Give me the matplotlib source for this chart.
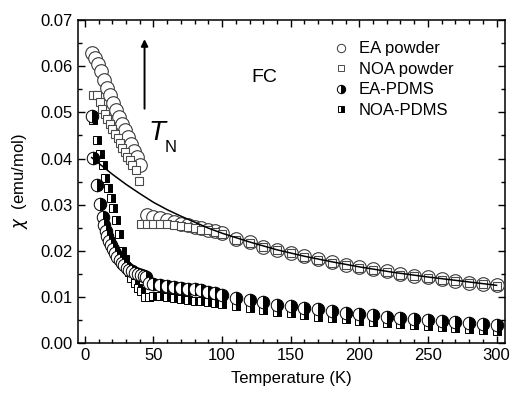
import matplotlib
matplotlib.use("Agg")
import matplotlib.pyplot as plt
from matplotlib.lines import Line2D
from matplotlib.ticker import MultipleLocator, FormatStrFormatter

plt.rcParams["font.family"] = ["Liberation Sans", "DejaVu Sans"]

# ── data ──────────────────────────────────────────────────────────────────────
ea_powder_T = [5.3, 7.5, 9.7, 11.9, 14.1, 16.3, 18.5, 20.7, 22.9, 25.1, 27.3, 29.5,
               31.7, 33.9, 36.1, 38.3, 40.5,
               45, 50, 55, 60, 65, 70, 75, 80, 85, 90, 95, 100,
               110, 120, 130, 140, 150, 160, 170, 180, 190, 200, 210, 220, 230,
               240, 250, 260, 270, 280, 290, 300]
ea_powder_chi = [0.0628, 0.0619, 0.0606, 0.0589, 0.0571, 0.0554, 0.0537, 0.0521,
                 0.0506, 0.0490, 0.0475, 0.0461, 0.0446, 0.0432, 0.0417, 0.0403, 0.0386,
                 0.0278, 0.0274, 0.0271, 0.0267, 0.0263, 0.0259, 0.0256, 0.0252,
                 0.0249, 0.0246, 0.0242, 0.0238,
                 0.0225, 0.0218, 0.0209, 0.0202, 0.0195, 0.0188, 0.0181, 0.0175,
                 0.0170, 0.0164, 0.0160, 0.0155, 0.0149, 0.0146, 0.0142, 0.0138,
                 0.0135, 0.0131, 0.0128, 0.0125]

noa_powder_T = [6.1, 8.9, 10.9, 12.6, 14.5, 16.5, 18.2, 20.1, 21.8, 23.8, 25.5, 27.4,
                29.1, 31.0, 32.7, 34.7, 37.1, 39.3,
                41, 45, 50, 55, 60, 65, 70, 75, 80, 85, 90, 95, 100,
                110, 120, 130, 140, 150, 160, 170, 180, 190, 200, 210, 220, 230,
                240, 250, 260, 270, 280, 290, 300]
noa_powder_chi = [0.0538, 0.0538, 0.0522, 0.0508, 0.0496, 0.0485, 0.0474, 0.0463,
                  0.0454, 0.0444, 0.0433, 0.0423, 0.0414, 0.0404, 0.0396, 0.0386,
                  0.0375, 0.0352,
                  0.0258, 0.0258, 0.0258, 0.0258, 0.0257, 0.0255, 0.0253, 0.0251,
                  0.0249, 0.0246, 0.0244, 0.0241, 0.0237,
                  0.0224, 0.0217, 0.0208, 0.0201, 0.0194, 0.0187, 0.0180, 0.0174,
                  0.0169, 0.0163, 0.0159, 0.0154, 0.0148, 0.0145, 0.0141, 0.0137,
                  0.0134, 0.0130, 0.0127, 0.0124]

ea_pdms_T = [5.3, 6.0, 8.5, 10.9, 12.9, 14.0, 15.2, 16.5, 17.8, 19.2, 20.6, 22.1,
             23.7, 25.3, 27.0, 28.8, 30.6, 32.5, 34.5, 36.5, 38.6, 40.7, 42.8, 44.8,
             47, 50, 55, 60, 65, 70, 75, 80, 85, 90, 95, 100,
             110, 120, 130, 140, 150, 160, 170, 180, 190, 200, 210, 220, 230,
             240, 250, 260, 270, 280, 290, 300]
ea_pdms_chi = [0.0493, 0.0401, 0.0343, 0.0302, 0.0274, 0.0256, 0.0243, 0.0232,
               0.0222, 0.0213, 0.0204, 0.0195, 0.0187, 0.0180, 0.0174, 0.0168,
               0.0162, 0.0158, 0.0155, 0.0152, 0.0149, 0.0147, 0.0145, 0.0143,
               0.0130, 0.0128, 0.0126, 0.0124, 0.0122, 0.0120, 0.0118, 0.0116,
               0.0114, 0.0111, 0.0108, 0.0104,
               0.0098, 0.0093, 0.0088, 0.0083, 0.0080, 0.0076, 0.0073, 0.0069,
               0.0066, 0.0063, 0.0060, 0.0057, 0.0054, 0.0051, 0.0049, 0.0047,
               0.0045, 0.0043, 0.0041, 0.0038]

noa_pdms_T = [6.0, 9.2, 11.4, 12.9, 14.5, 17.0, 19.4, 20.6, 23.0, 25.0, 27.4, 29.1,
              30.3, 32.2, 34.0, 36.4, 38.8, 41.2,
              44, 47, 50, 55, 60, 65, 70, 75, 80, 85, 90, 95, 100,
              110, 120, 130, 140, 150, 160, 170, 180, 190, 200, 210, 220, 230,
              240, 250, 260, 270, 280, 290, 300]
noa_pdms_chi = [0.0483, 0.0441, 0.0410, 0.0386, 0.0358, 0.0336, 0.0315, 0.0293,
                0.0267, 0.0236, 0.0200, 0.0182, 0.0167, 0.0153, 0.0141, 0.0129,
                0.0120, 0.0112,
                0.0100, 0.0100, 0.0101, 0.0101, 0.0100, 0.0098, 0.0096, 0.0094,
                0.0092, 0.0091, 0.0089, 0.0087, 0.0085,
                0.0081, 0.0076, 0.0071, 0.0067, 0.0064, 0.0060, 0.0057, 0.0054,
                0.0051, 0.0048, 0.0046, 0.0043, 0.0041, 0.0038, 0.0036, 0.0034,
                0.0032, 0.0030, 0.0028, 0.0025]

# Curie-Weiss fit curve
fit_T = [5, 10, 15, 20, 25, 30, 35, 40, 50, 60, 70, 80, 90, 100, 120, 140, 160,
         180, 200, 225, 250, 275, 300]
fit_chi = [0.0402, 0.0390, 0.0378, 0.0366, 0.0355, 0.0344, 0.0334, 0.0324, 0.0305,
           0.0289, 0.0275, 0.0262, 0.0249, 0.0238, 0.0219, 0.0202, 0.0188, 0.0176,
           0.0165, 0.0153, 0.0143, 0.0134, 0.0125]

labels = ["EA powder", "NOA powder", "EA-PDMS", "NOA-PDMS"]

# ── plot ──────────────────────────────────────────────────────────────────────
fig = plt.figure(figsize=(5.13, 3.96), dpi=100)
ax = fig.add_axes([0.152, 0.134, 0.832, 0.815])

ax.plot(ea_powder_T, ea_powder_chi, "o", ms=9.8, mfc="white", mec="#3a3a3a",
        mew=0.8, zorder=3)
ax.plot(noa_powder_T, noa_powder_chi, "s", ms=5.5, mfc="white", mec="#4a4a4a",
        mew=0.8, zorder=4)
ax.plot(noa_pdms_T, noa_pdms_chi, "s", ms=5.5, fillstyle="right", mfc="black",
        mfcalt="white", mec="black", mew=0.7, zorder=5)
ax.plot(ea_pdms_T, ea_pdms_chi, "o", ms=9, fillstyle="right", mfc="black",
        mfcalt="white", mec="black", mew=0.7, zorder=6)
ax.plot(fit_T, fit_chi, "-", color="black", lw=1.1, zorder=7)

ax.set_xlim(-5, 306)
ax.set_ylim(0, 0.07)
ax.xaxis.set_major_locator(MultipleLocator(50))
ax.xaxis.set_minor_locator(MultipleLocator(10))
ax.yaxis.set_major_locator(MultipleLocator(0.01))
ax.yaxis.set_minor_locator(MultipleLocator(0.005))
ax.yaxis.set_major_formatter(FormatStrFormatter("%.2f"))
ax.tick_params(which="both", direction="in", top=True, right=True, labelsize=12)
ax.tick_params(which="major", length=5, width=1)
ax.tick_params(which="minor", length=3, width=1)
for s in ax.spines.values():
    s.set_linewidth(1.1)

ax.set_xlabel("Temperature (K)", fontsize=12, labelpad=6)
ax.set_ylabel(r"$\chi$  (emu/mol)", fontsize=12, labelpad=8)

# T_N arrow and labels
ax.annotate("", xy=(43.5, 0.0665), xytext=(43.5, 0.0502),
            arrowprops=dict(arrowstyle="-|>", color="black", lw=1.4,
                            mutation_scale=10))
ax.text(46.5, 0.0455, "T", fontsize=20, style="italic", ha="left", va="center")
ax.text(58, 0.0423, "N", fontsize=12, ha="left", va="center")
ax.text(121, 0.0576, "FC", fontsize=14, ha="left", va="center")

handles = [
    Line2D([], [], ls="none", marker="o", ms=6, mfc="white", mec="#3a3a3a", mew=0.7),
    Line2D([], [], ls="none", marker="s", ms=4.5, mfc="white", mec="#4a4a4a", mew=0.7),
    Line2D([], [], ls="none", marker="o", ms=6, fillstyle="right", mfc="black",
           mfcalt="white", mec="black", mew=0.7),
    Line2D([], [], ls="none", marker="s", ms=4.5, fillstyle="right", mfc="black",
           mfcalt="white", mec="black", mew=0.7),
]
ax.legend(handles, labels, loc="upper left", bbox_to_anchor=(0.58, 0.955),
          frameon=False, fontsize=12, handlelength=1.0, handletextpad=0.6,
          labelspacing=0.33, borderaxespad=0)

fig.savefig("out.png", dpi=100)
